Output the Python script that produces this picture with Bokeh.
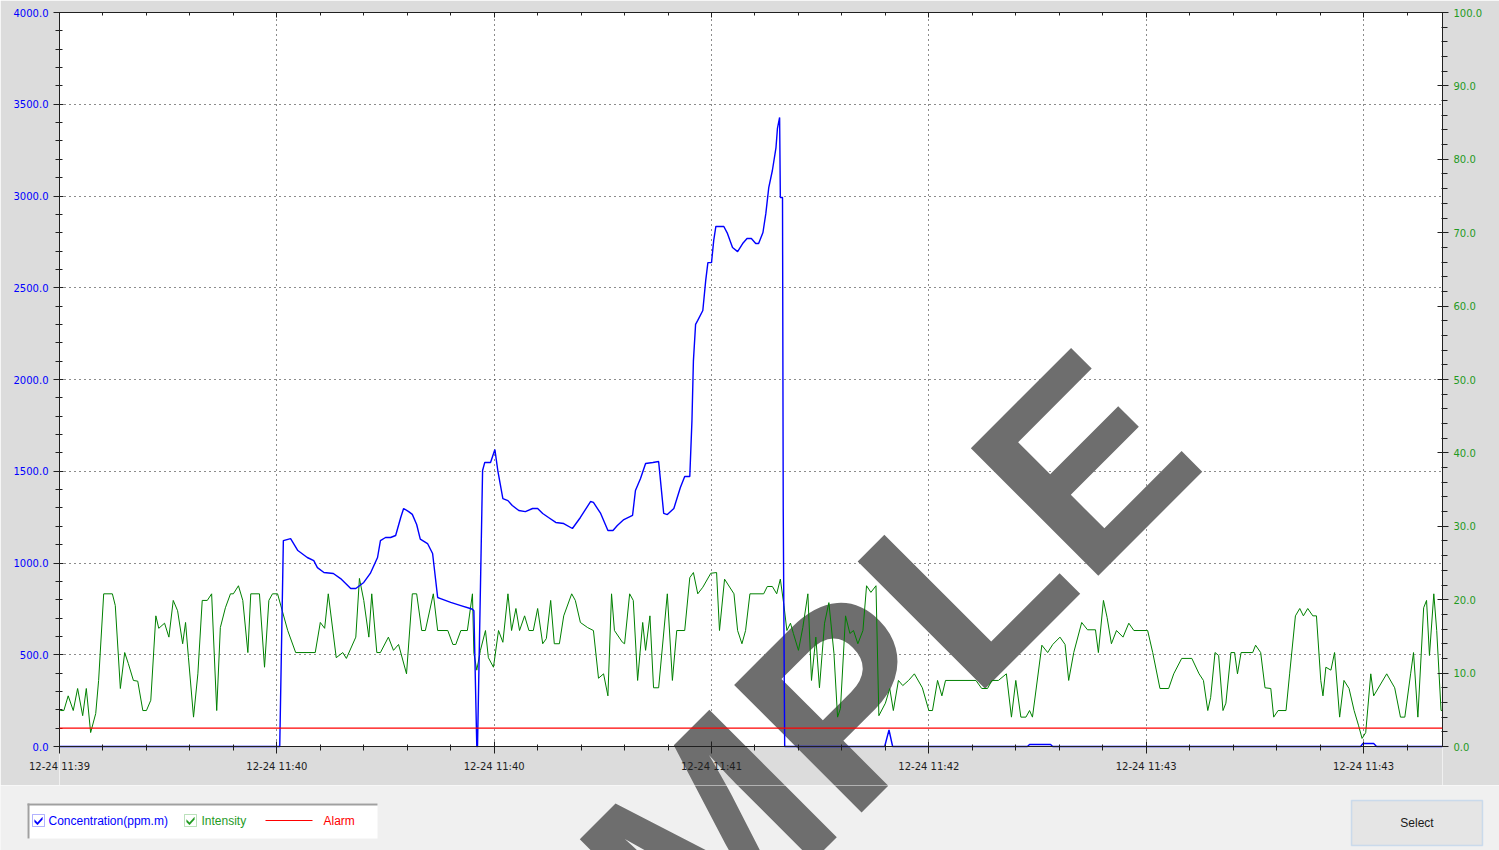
from bokeh.plotting import figure
from bokeh.models import (Range1d, LinearAxis, FixedTicker, NumeralTickFormatter, Span, Label,
                          BoxAnnotation, PolyAnnotation)
from bokeh.layouts import column, row
from bokeh.embed import file_html
from bokeh.resources import INLINE

# ---------------- data ----------------
tick_seconds = [0, 30, 60, 90, 120, 150, 180]
tick_labels = ["12-24 11:39", "12-24 11:40", "12-24 11:40", "12-24 11:41",
               "12-24 11:42", "12-24 11:43", "12-24 11:43"]
time_end = 190.9

conc_min, conc_max = 0, 4000          # left axis, ppm.m
int_min, int_max = 0, 100             # right axis, intensity
alarm_level = 100                     # ppm.m

# Concentration (ppm.m) vs seconds
conc_t = [0, 30.4, 30.9, 31.9, 32.9, 34.2, 35.1, 35.6, 36.5, 37.8,
          38.8, 40.2, 40.9, 42.0, 42.9, 43.9, 44.3, 45.0, 45.7, 46.4,
          47.1, 47.5, 48.2, 48.7, 49.3, 49.8, 50.8, 51.5, 52.2, 52.6,
          54.0, 55.4, 56.7, 57.0, 57.2, 57.6, 57.7, 58.4, 58.7, 59.5,
          60.1, 60.5, 61.2, 61.9, 62.5, 63.4, 64.3, 65.3, 66.0, 66.7,
          67.5, 68.5, 69.6, 70.8, 71.9, 73.3, 73.7, 74.7, 75.7, 76.4,
          77.0, 77.9, 79.1, 79.5, 80.2, 80.9, 81.9, 82.7, 83.4, 83.9,
          84.8, 85.7, 86.3, 87.0, 87.3, 87.5, 87.8, 88.1, 88.8, 89.2,
          89.5, 90.0, 90.3, 90.6, 91.7, 92.2, 92.9, 93.6, 94.3, 94.9,
          95.5, 96.1, 96.5, 97.1, 97.5, 97.9, 98.4, 98.9, 99.1, 99.4,
          99.5, 99.8, 99.9, 100.1, 113.9, 114.5, 115.0, 133.6, 133.9, 136.8,
          137.1, 179.6, 179.9, 181.4, 181.8, 190.9]
conc_v = [0, 0, 1122, 1133, 1068, 1030, 1013, 975, 948, 943,
          915, 861, 861, 894, 943, 1030, 1122, 1139, 1139, 1150,
          1248, 1297, 1280, 1265, 1210, 1130, 1106, 1052, 812, 806,
          785, 768, 752, 748, 740, 0, 0, 1504, 1548, 1548,
          1618, 1504, 1351, 1340, 1313, 1286, 1280, 1297, 1297, 1270,
          1248, 1221, 1215, 1188, 1248, 1335, 1330, 1270, 1177, 1177,
          1204, 1237, 1259, 1395, 1460, 1542, 1548, 1553, 1270, 1264,
          1297, 1411, 1471, 1471, 1776, 2100, 2300, 2322, 2376, 2540,
          2637, 2637, 2757, 2834, 2834, 2796, 2719, 2697, 2741, 2768,
          2768, 2741, 2741, 2801, 2905, 3046, 3139, 3264, 3368, 3428,
          2992, 2992, 1286, 0, 0, 90, 0, 0, 11, 11,
          0, 0, 16, 16, 0, 0]

# Intensity vs seconds
int_t = [0.1, 0.6, 1.2, 1.9, 2.5, 3.2, 3.7, 4.3, 5.0, 5.4,
         6.1, 7.3, 7.7, 8.4, 9.0, 9.5, 10.2, 10.8, 11.5, 12.0,
         12.6, 13.3, 13.7, 14.5, 15.1, 15.7, 16.3, 17.0, 17.4, 17.8,
         18.5, 19.1, 19.7, 20.4, 21.0, 21.7, 22.2, 22.9, 23.6, 24.0,
         24.7, 25.3, 26.0, 26.4, 27.6, 28.3, 28.9, 29.4, 30.1, 31.5,
         32.6, 35.3, 36.0, 36.6, 37.1, 38.2, 39.1, 39.6, 40.9, 41.4,
         42.0, 42.7, 43.1, 43.8, 44.3, 45.4, 46.1, 46.8, 47.9, 48.7,
         49.3, 50.0, 50.5, 51.6, 52.2, 53.6, 54.3, 54.7, 55.4, 56.3,
         57.0, 57.2, 57.6, 58.1, 58.8, 59.2, 59.9, 60.6, 61.2, 61.9,
         62.4, 63.0, 63.5, 64.2, 64.8, 65.4, 66.0, 66.7, 67.2, 67.8,
         68.3, 69.0, 69.6, 70.7, 71.2, 71.9, 72.9, 73.7, 74.4, 75.1,
         75.7, 76.2, 76.6, 77.7, 78.0, 78.7, 79.2, 79.8, 80.5, 80.9,
         81.5, 82.0, 82.7, 83.9, 84.6, 85.2, 86.3, 87.0, 87.5, 88.1,
         88.8, 89.9, 90.7, 91.1, 91.8, 93.1, 93.6, 94.2, 94.7, 95.3,
         97.2, 97.7, 98.4, 99.0, 99.5, 100.0, 100.4, 100.9, 101.3, 102.0,
         102.6, 103.3, 103.8, 104.4, 104.9, 105.6, 106.2, 106.9, 107.4, 107.8,
         108.5, 109.1, 109.6, 110.2, 110.9, 111.4, 112.0, 112.7, 113.1, 114.0,
         114.6, 115.1, 115.8, 116.4, 117.2, 118.0, 119.1, 120.0, 120.5, 121.2,
         121.8, 122.3, 126.5, 127.3, 128.1, 128.7, 129.6, 130.7, 131.4, 132.0,
         132.7, 133.4, 133.9, 134.3, 135.6, 136.4, 137.1, 138.1, 138.8, 139.3,
         140.0, 141.1, 141.9, 143.0, 143.4, 144.1, 144.6, 145.2, 145.9, 146.8,
         147.6, 148.3, 150.2, 150.9, 151.9, 153.1, 153.8, 154.9, 156.3, 157.3,
         157.9, 158.5, 158.9, 159.5, 160.0, 160.6, 161.0, 161.7, 162.2, 162.6,
         163.1, 164.7, 165.1, 165.8, 166.4, 167.2, 167.6, 168.2, 169.3, 169.8,
         170.6, 171.2, 171.7, 172.3, 173.0, 173.5, 174.1, 174.4, 174.8, 175.5,
         176.0, 176.7, 177.3, 178.0, 178.7, 179.3, 179.8, 180.3, 181.0, 181.4,
         183.2, 184.3, 185.1, 185.7, 186.5, 186.9, 187.5, 188.3, 188.7, 189.1,
         189.7, 190.1, 190.7, 190.9]
int_v = [4.9, 4.9, 6.9, 4.9, 7.9, 4.2, 7.9, 1.9, 4.5, 9.0,
         20.8, 20.8, 19.2, 7.9, 12.8, 11.3, 9.0, 8.9, 4.9, 4.9,
         6.3, 17.8, 16.1, 16.8, 14.9, 19.9, 18.5, 14.0, 16.9, 12.1,
         4.0, 9.9, 19.9, 19.9, 20.8, 4.9, 16.2, 18.9, 20.8, 20.8,
         21.9, 19.9, 12.8, 20.8, 20.8, 10.8, 19.9, 20.8, 20.8, 15.8,
         12.8, 12.8, 16.9, 16.1, 20.8, 12.1, 12.8, 12.0, 14.9, 22.9,
         19.9, 14.9, 20.8, 12.8, 12.8, 14.9, 13.1, 13.9, 9.9, 20.8,
         20.8, 15.8, 15.8, 20.8, 15.8, 15.8, 13.9, 13.9, 15.8, 15.8,
         20.8, 12.7, 10.4, 13.1, 15.8, 12.1, 10.8, 15.8, 14.2, 20.8,
         15.8, 18.8, 15.8, 17.8, 15.8, 15.8, 18.8, 14.0, 14.7, 19.9,
         14.0, 14.0, 17.8, 20.8, 19.9, 16.9, 16.2, 15.8, 9.3, 9.9,
         6.9, 20.8, 15.8, 14.2, 14.0, 20.8, 19.9, 9.0, 16.9, 13.1,
         17.8, 8.0, 8.0, 20.8, 9.0, 15.8, 15.8, 23.0, 23.7, 20.8,
         21.7, 23.6, 23.7, 15.8, 22.8, 20.8, 15.8, 14.0, 15.8, 20.8,
         20.8, 21.8, 21.8, 20.8, 22.8, 19.2, 15.8, 16.8, 15.4, 13.1,
         16.2, 20.8, 9.0, 14.9, 8.0, 16.8, 19.6, 12.7, 4.0, 5.2,
         17.8, 15.4, 15.8, 14.0, 15.8, 21.9, 21.0, 21.9, 4.2, 5.9,
         7.9, 4.9, 9.0, 8.3, 9.0, 9.9, 8.0, 4.9, 4.9, 9.0,
         6.9, 9.0, 9.0, 7.9, 7.9, 9.0, 9.0, 9.9, 4.0, 9.0,
         4.0, 4.0, 4.9, 4.0, 13.8, 12.8, 13.9, 14.9, 13.9, 9.0,
         12.8, 16.9, 15.9, 15.9, 12.8, 19.9, 17.6, 14.0, 15.8, 14.9,
         16.8, 15.8, 15.8, 12.8, 7.9, 7.9, 9.9, 12.0, 12.0, 9.9,
         9.0, 4.9, 6.7, 12.8, 12.4, 4.9, 5.9, 12.8, 12.8, 9.9,
         12.8, 12.8, 13.8, 12.8, 8.0, 7.9, 4.0, 4.9, 4.9, 9.9,
         17.8, 18.8, 17.8, 18.8, 17.8, 17.8, 9.0, 6.9, 10.8, 10.4,
         12.8, 4.0, 9.0, 7.9, 4.9, 2.9, 1.1, 1.9, 9.9, 6.9,
         9.9, 8.0, 4.0, 4.0, 9.9, 12.8, 4.0, 18.9, 19.9, 12.4,
         20.8, 15.8, 4.9, 4.9]

legend_labels = ["Concentration(ppm.m)", "Intensity", "Alarm"]
button_label = "Select"
watermark_text = "SAMPLE"

# ---------------- styling / layout ----------------
W, H_MAIN, H_PANEL = 1499, 785, 65
FRAME_L, FRAME_R, FRAME_T, FRAME_B = 59, 1442, 12, 746   # data area (page pixels)
GRAY = "#dcdcdc"
PANEL = "#f0f0f0"
AX = "#202020"
BLUE = "#0000ff"
GREEN = "#008000"
GREEN_TXT = "#1f9a1f"
RED = "#ff0000"
WM_COLOR = "#6e6e6e"
TICK_FONT = "DejaVu Sans"
UI_FONT = "Liberation Sans"
WM_PX, WM_PY, WM_SIZE = 373, 1172, "262px"   # watermark baseline start (page pixels)

# the frame runs down to the bottom of the gray area; the band below value 0 holds the time axis
band = (H_MAIN - FRAME_B) / (FRAME_B - FRAME_T)
y_lo = conc_min - band * (conc_max - conc_min)
r_lo = int_min - band * (int_max - int_min)

p = figure(width=W, height=H_MAIN,
           x_range=Range1d(0, time_end), y_range=Range1d(y_lo, conc_max),
           output_backend="svg", toolbar_location=None, tools="",
           min_border_left=FRAME_L, min_border_right=W - FRAME_R,
           min_border_top=FRAME_T, min_border_bottom=0)
p.background_fill_color = "white"
p.border_fill_color = GRAY
p.outline_line_color = None
p.extra_y_ranges = {"int": Range1d(r_lo, int_max)}

x_ticker = FixedTicker(ticks=tick_seconds, minor_ticks=list(range(0, 191, 6)))
y_ticker = FixedTicker(ticks=list(range(0, 4001, 500)), minor_ticks=list(range(0, 4001, 100)))
r_ticker = FixedTicker(ticks=list(range(0, 101, 10)), minor_ticks=list(range(0, 101, 2)))


def style_axis(ax, label_color, mi, mo, ni, no, standoff=5):
    ax.axis_line_color = AX
    ax.major_tick_line_color = AX
    ax.minor_tick_line_color = AX
    ax.major_tick_in = mi
    ax.major_tick_out = mo
    ax.minor_tick_in = ni
    ax.minor_tick_out = no
    ax.major_label_text_font = TICK_FONT
    ax.major_label_text_font_size = "10px"
    ax.major_label_text_color = label_color
    ax.major_label_standoff = standoff
    ax.level = "overlay"


# bottom time axis: drawn from the canvas bottom, ticks reach up to the value-0 line
gap = H_MAIN - FRAME_B
xb = p.xaxis[0]
xb.ticker = x_ticker
xb.major_label_overrides = {t: l for t, l in zip(tick_seconds, tick_labels)}
style_axis(xb, "#1e1e1e", gap + 5, 7 - gap, gap + 2, 4 - gap, standoff=7)
xb.axis_line_color = None

yl = p.yaxis[0]
yl.ticker = y_ticker
yl.bounds = (conc_min, conc_max)
yl.formatter = NumeralTickFormatter(format="0.0")
style_axis(yl, BLUE, 4, 6, 3, 4)

yr = LinearAxis(y_range_name="int", ticker=r_ticker, bounds=(int_min, int_max),
                formatter=NumeralTickFormatter(format="0.0"))
style_axis(yr, GREEN_TXT, 5, 6, 1, 5)
p.add_layout(yr, "right")

xt = LinearAxis(ticker=x_ticker)
style_axis(xt, GRAY, 5, 0, 3, 0, standoff=0)
xt.major_label_text_font_size = "1px"
xt.major_label_text_alpha = 0
p.add_layout(xt, "above")

p.xgrid.ticker = x_ticker
p.ygrid.ticker = y_ticker
p.xgrid.grid_line_color = "#000000"
p.ygrid.grid_line_color = "#000000"
p.xgrid.grid_line_dash = "1 4"
p.ygrid.grid_line_dash = "1 4"
p.xgrid.grid_line_alpha = 0.9
p.ygrid.grid_line_alpha = 0.9

# gray band under the data area (covers the grid there)
p.add_layout(BoxAnnotation(bottom=y_lo, top=conc_min, fill_color=GRAY, fill_alpha=1,
                           line_color=None, level="annotation"))


def page_to_main(px, py):
    x = (px - FRAME_L) / (FRAME_R - FRAME_L) * time_end
    y = (FRAME_B - py) / (FRAME_B - FRAME_T) * (conc_max - conc_min)
    return x, y


def watermark(x, y):
    return Label(x=x, y=y, text=watermark_text, angle=45, angle_units="deg",
                 text_font=UI_FONT, text_font_style="bold", text_font_size=WM_SIZE,
                 text_color=WM_COLOR, text_align="left", text_baseline="alphabetic",
                 level="annotation")


wx, wy = page_to_main(WM_PX, WM_PY)
p.add_layout(watermark(wx, wy))

# x-axis line at value 0
p.add_layout(Span(location=conc_min, dimension="width", line_color=AX, line_width=1, level="overlay"))

# series (drawn above the watermark)
g = p.line(int_t, int_v, y_range_name="int", line_color=GREEN, line_width=1)
g.level = "overlay"
p.add_layout(Span(location=alarm_level, dimension="width", line_color=RED, line_width=1.2,
                  level="overlay"))
b = p.line(conc_t, conc_v, line_color=BLUE, line_width=1.4)
b.level = "overlay"

# ---------------- bottom panel (legend + button), page-pixel coordinates ----------------
q = figure(width=W, height=H_PANEL, x_range=Range1d(0, W), y_range=Range1d(H_PANEL, 0),
           output_backend="svg", toolbar_location=None, tools="", min_border=0,
           x_axis_location=None, y_axis_location=None)
q.xgrid.visible = False
q.ygrid.visible = False
q.background_fill_color = PANEL
q.border_fill_color = PANEL
q.outline_line_color = None

q.add_layout(watermark(WM_PX, WM_PY - H_MAIN))


def box(l, r, t, bt, fill, line=None, lw=1):
    return BoxAnnotation(left=l, right=r, top=t, bottom=bt, fill_color=fill, fill_alpha=1,
                         line_color=line, line_width=lw, level="annotation")


def label(x, y, text, color, align="left", size="12px"):
    return Label(x=x, y=y, text=text, text_font=UI_FONT, text_font_size=size,
                 text_color=color, text_align=align, text_baseline="middle")


# legend box (Fixed3D look)
q.add_layout(box(27, 377, 18, 53, "white"))
q.add_layout(box(27, 377, 18, 20, "#a0a0a0"))
q.add_layout(box(27, 29, 18, 53, "#a0a0a0"))

cb_y = 35
for cx, col in ((38, BLUE), (190, GREEN_TXT)):
    q.add_layout(box(cx - 6, cx + 6, cb_y - 6, cb_y + 6, "white", col, 1))
    q.add_layout(PolyAnnotation(xs=[cx - 4, cx - 1, cx + 4, cx + 4, cx - 1, cx - 4],
                                ys=[cb_y - 1, cb_y + 2, cb_y - 3.5, cb_y - 1, cb_y + 4.5, cb_y + 1.5],
                                fill_color=col, fill_alpha=1, line_color=col, line_width=0.5,
                                level="annotation"))

q.add_layout(label(48, cb_y, legend_labels[0], BLUE))
q.add_layout(label(201, cb_y, legend_labels[1], GREEN_TXT))
q.add_layout(box(265, 312, cb_y - 0.5, cb_y + 0.5, RED))
q.add_layout(label(323, cb_y, legend_labels[2], RED))

# Select button
q.add_layout(box(1351, 1482, 15, 60, "#e5e5e5", "#7eb4ea", 1.5))
q.add_layout(label(1416.5, 37.5, button_label, "#1a1a1a", align="center"))

layout = column(p, row(q))
open("out.html", "w").write(file_html(layout, INLINE))
